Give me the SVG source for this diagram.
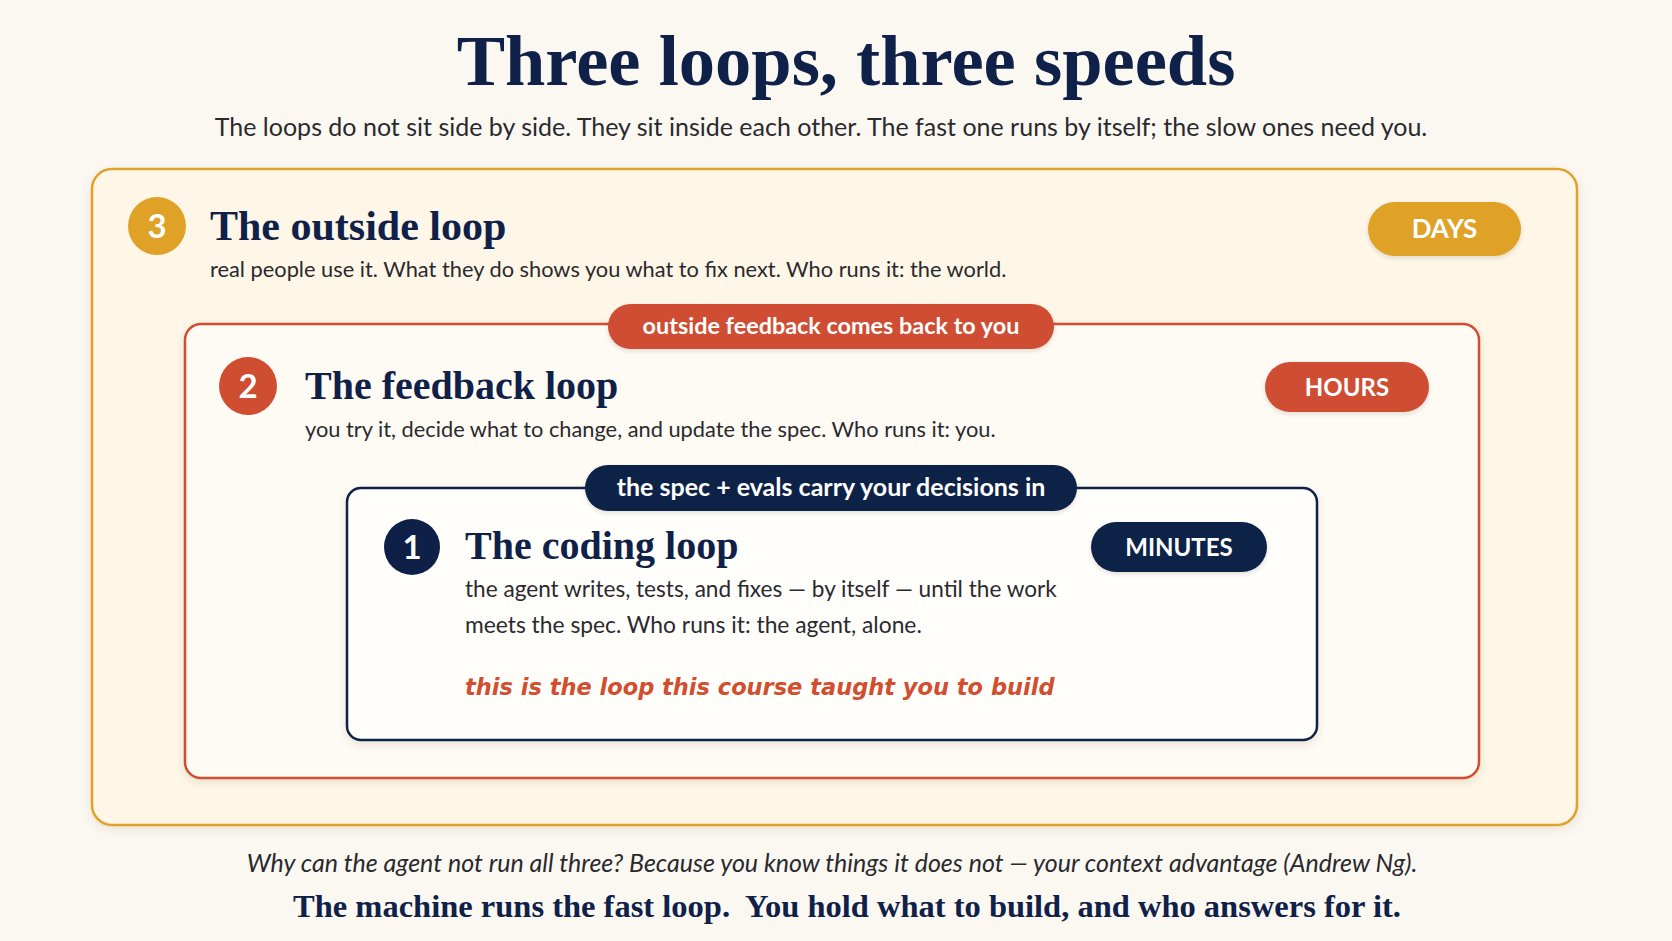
<svg xmlns="http://www.w3.org/2000/svg" width="1672" height="941" viewBox="0 0 1672 941">
  <defs>
    <filter id="shadow" x="-5%" y="-5%" width="110%" height="115%">
      <feDropShadow dx="0" dy="3" stdDeviation="4" flood-color="#5a4520" flood-opacity="0.12"/>
    </filter>
    <filter id="pshadow" x="-10%" y="-20%" width="120%" height="150%">
      <feDropShadow dx="0" dy="2" stdDeviation="2" flood-color="#3a2a10" flood-opacity="0.15"/>
    </filter>
  </defs>
  <style>
    .serif { font-family: "Liberation Serif", "DejaVu Serif", serif; font-weight: 700; fill: #0F2149; }
    .body { font-family: Lato, "Liberation Sans", sans-serif; font-size: 21.8px; fill: #2A2A2E; }
    .pill { font-family: Lato, "Liberation Sans", sans-serif; font-weight: 700; fill: #FFFFFF; text-anchor: middle; }
    .num { font-family: Lato, "Liberation Sans", sans-serif; font-weight: 700; font-size: 33px; fill: #FFFFFF; text-anchor: middle; }
    .h2 { font-size: 40px; }
    .gold { fill: #DFA126; }
    .red { fill: #CF4E31; }
    .navy { fill: #0E2047; }
  </style>

  <rect x="0" y="0" width="1672" height="941" fill="#FBF8F2"/>

  <g id="header">
    <text class="serif" x="846" y="85" font-size="72.5" text-anchor="middle">Three loops, three speeds</text>
    <text class="body" x="821" y="136" text-anchor="middle" style="font-size:25px">The loops do not sit side by side. They sit inside each other. The fast one runs by itself; the slow ones need you.</text>
  </g>

  <g id="outside-loop">
    <rect x="92" y="169" width="1485" height="656" rx="20" fill="#FEF6E7" stroke="#E1A12A" stroke-width="2.5" filter="url(#shadow)"/>
    <circle class="gold" cx="157" cy="226" r="29"/>
    <text class="num" x="157" y="238">3</text>
    <text class="serif" x="210" y="240" font-size="42">The outside loop</text>
    <text class="body" x="210" y="277">real people use it. What they do shows you what to fix next. Who runs it: the world.</text>
    <rect class="gold" x="1368" y="202" width="153" height="54" rx="27" filter="url(#pshadow)"/>
    <text class="pill" x="1444.5" y="238" font-size="26">DAYS</text>
  </g>

  <g id="feedback-loop">
    <rect x="185" y="324" width="1294" height="454" rx="16" fill="#FEFAF4" stroke="#D04E31" stroke-width="2.5" filter="url(#shadow)"/>
    <circle class="red" cx="248" cy="386" r="29"/>
    <text class="num" x="248" y="398">2</text>
    <text class="serif h2" x="305" y="399">The feedback loop</text>
    <text class="body" x="305" y="437">you try it, decide what to change, and update the spec. Who runs it: you.</text>
    <rect class="red" x="1265" y="362" width="164" height="50" rx="25" filter="url(#pshadow)"/>
    <text class="pill" x="1347" y="396" font-size="24">HOURS</text>
  </g>

  <g id="coding-loop">
    <rect x="347" y="488" width="970" height="252" rx="14" fill="#FFFEFB" stroke="#0E2047" stroke-width="2.5" filter="url(#shadow)"/>
    <circle class="navy" cx="412" cy="547" r="28"/>
    <text class="num" x="412" y="559">1</text>
    <text class="serif h2" x="465" y="559">The coding loop</text>
    <text class="body" x="465" y="597" style="font-size:22.6px">the agent writes, tests, and fixes — by itself — until the work</text>
    <text class="body" x="465" y="633" style="font-size:22.8px">meets the spec. Who runs it: the agent, alone.</text>
    <text x="465" y="695" font-family="'DejaVu Sans', 'Open Sans', sans-serif" font-weight="700" font-style="italic" font-size="22.5" fill="#D14E2F">this is the loop this course taught you to build</text>
    <rect class="navy" x="1091" y="522" width="176" height="50" rx="25" filter="url(#pshadow)"/>
    <text class="pill" x="1179" y="556" font-size="24">MINUTES</text>
  </g>

  <g id="connectors">
    <g id="label-outside-feedback">
      <rect class="red" x="608" y="304" width="446" height="45" rx="22.5" filter="url(#pshadow)"/>
      <text class="pill" x="831" y="334" font-size="23.4">outside feedback comes back to you</text>
    </g>
    <g id="label-spec-evals">
      <rect class="navy" x="585" y="465" width="492" height="46" rx="23" filter="url(#pshadow)"/>
      <text class="pill" x="831" y="496" font-size="25">the spec + evals carry your decisions in</text>
    </g>
  </g>

  <g id="footer">
    <text x="832" y="872" text-anchor="middle" font-family="Lato, 'Liberation Sans', sans-serif" font-style="italic" font-size="25" fill="#2A2A2E">Why can the agent not run all three? Because you know things it does not — your context advantage (Andrew Ng).</text>
    <text class="serif" x="847" y="917" font-size="32.5" text-anchor="middle" fill="#0B1A33">The machine runs the fast loop.&#160; You hold what to build, and who answers for it.</text>
  </g>
</svg>
